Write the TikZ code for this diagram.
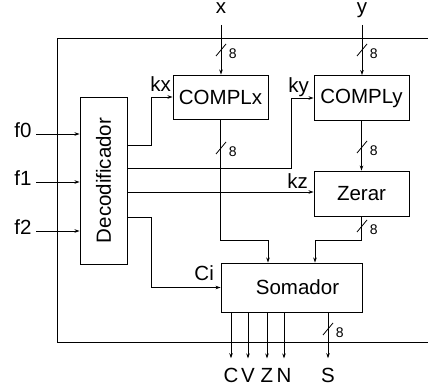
\documentclass[tikz,border=0pt]{standalone}
\usepackage{fontspec}
\setmainfont{Liberation Sans}
\usetikzlibrary{arrows.meta}
\begin{document}
\begin{tikzpicture}[x=1pt,y=-1pt,
  line width=0.9pt,
  arr/.style={-{Stealth[length=5pt,width=3.5pt]}},
  blk/.style={draw, inner sep=0pt, font=\fontsize{20.5}{24}\selectfont},
  lbl/.style={inner sep=0pt, font=\fontsize{20.5}{24}\selectfont},
  eighttxt/.style={inner sep=0pt, font=\fontsize{14}{16}\selectfont},
  bus/.pic={\draw[line width=0.8pt] (-5,6) -- (5,-6); \node[eighttxt,anchor=west] at (7.5,4) {8};}
]
\useasboundingbox (0,0) rectangle (428,385);
% frame
\draw (428,38) -- (57,38) -- (57,342) -- (428,342);
% blocks
\node[blk, minimum width=47pt, minimum height=167pt] (dec) at (103.5,180.5) {};
\node[lbl, rotate=90] (dectxt) at (dec.center) {Decodificador};
\node[blk, minimum width=95pt, minimum height=44pt] (cx) at (220.5,97) {COMPLx};
\node[blk, minimum width=95pt, minimum height=45pt] (cy) at (361.5,98) {COMPLy};
\node[blk, minimum width=95pt, minimum height=45pt] (zr) at (361.5,193.5) {Zerar};
\node[blk, minimum width=141pt, minimum height=49pt] (som) at (291.5,287.5) {\hspace{12pt}Somador};
% top inputs
\node[lbl,anchor=base] (xl) at (221,14) {x};
\node[lbl,anchor=base] (yl) at (362,14) {y};
\coordinate (xin) at (221,25);
\coordinate (yin) at (362,25);
\draw[arr] (xin) -- (xin |- cx.north);
\draw[arr] (yin) -- (yin |- cy.north);
\pic at (221,50) {bus};
\pic at (362,50) {bus};
% f inputs
\node[lbl,anchor=base east] (f0) at (32,137) {f0};
\node[lbl,anchor=base east] (f1) at (32,185.5) {f1};
\node[lbl,anchor=base east] (f2) at (32,234.5) {f2};
\coordinate (f0s) at (36,134);
\coordinate (f1s) at (36,182);
\coordinate (f2s) at (36,231);
\draw[arr] (f0s) -- (f0s -| dec.west);
\draw[arr] (f1s) -- (f1s -| dec.west);
\draw[arr] (f2s) -- (f2s -| dec.west);
% decoder outputs
\node[lbl,anchor=base west] (kx) at (150,92) {kx};
\node[lbl,anchor=base west] (ky) at (288,92.5) {ky};
\node[lbl,anchor=base west] (kz) at (287,188) {kz};
\node[lbl,anchor=base west] (ci) at (194,280) {Ci};
\draw[arr] (dec.east |- 0,145) -- (151,145) |- (cx.west);
\draw[arr] (dec.east |- 0,168) -- (291,168) |- (cy.west);
\draw[arr] (dec.east |- 0,192) -- (zr.west |- 0,192);
\draw[arr] (dec.east |- 0,217) -- (151,217) |- (som.west);
% data paths
\draw[arr] (cy.south) -- (zr.north);
\pic at (362,147) {bus};
\draw[arr] (cx.south) |- (268,240) -- (som.north -| 268,0);
\pic at (221,148) {bus};
\draw[arr] (zr.south) |- (315,240) -- (som.north -| 315,0);
\pic at (362,226) {bus};
% outputs
\node[lbl,anchor=base] (oC) at (231,382) {C};
\node[lbl,anchor=base] (oV) at (248,382) {V};
\node[lbl,anchor=base] (oZ) at (267,382) {Z};
\node[lbl,anchor=base] (oN) at (284,382) {N};
\node[lbl,anchor=base] (oS) at (328,382) {S};
\foreach \o in {oC,oV,oZ,oN,oS}{
  \draw[arr, shorten >=9pt] (som.south -| \o.north) -- (\o.north);
}
\pic at (328,329) {bus};
\end{tikzpicture}
\end{document}
